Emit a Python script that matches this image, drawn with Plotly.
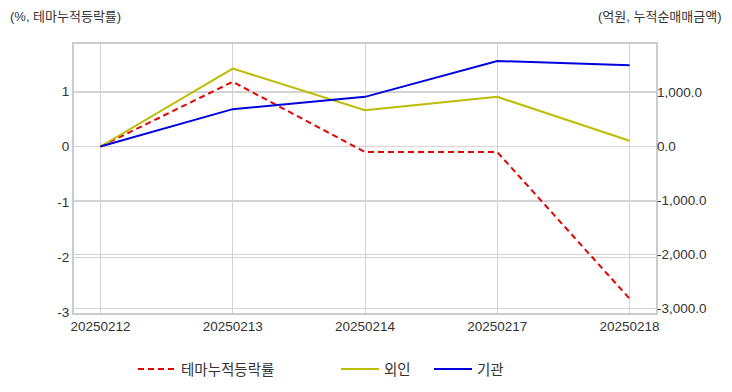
import plotly.graph_objects as go

dates = ["20250212", "20250213", "20250214", "20250217", "20250218"]
theme_pct = [0.0, 1.17, -0.10, -0.10, -2.75]
foreign_amt = [0.0, 1443, 673, 919, 107]
inst_amt = [0.0, 692, 919, 1583, 1504]

left_ticks = [-3, -2, -1, 0, 1]
right_ticks = [-3000, -2000, -1000, 0, 1000]

def fmt_left(v):
    return f"{v:d}"

def fmt_right(v):
    return f"{v:,.1f}"

FONT = "Liberation Sans, Arial, Noto Sans CJK KR, sans-serif"
GRID = "#d3d3d3"

fig = go.Figure()
fig.add_trace(go.Scatter(x=dates, y=theme_pct, name="테마누적등락률", mode="lines",
                         line=dict(color="#e60000", width=2, dash="6px,4px"),
                         yaxis="y", legend="legend", showlegend=True))
fig.add_trace(go.Scatter(x=dates, y=foreign_amt, name="외인", mode="lines",
                         line=dict(color="#bdbd00", width=2),
                         yaxis="y2", legend="legend2", showlegend=True))
fig.add_trace(go.Scatter(x=dates, y=inst_amt, name="기관", mode="lines",
                         line=dict(color="#0000dd", width=2),
                         yaxis="y2", legend="legend3", showlegend=True))

W, H = 732, 392
ml, mr, mt, mb = 74, 76, 44, 79
pw = W - ml - mr
ph = H - mt - mb

def px_to_paper_x(px):
    return (px - ml) / pw

def py_to_paper_y(py):
    return (H - mb - py) / ph

legend_common = dict(orientation="h", yanchor="middle", xanchor="left",
                     xref="container", yref="container", itemwidth=38,
                     font=dict(family=FONT, size=14.5, color="#333"),
                     bgcolor="rgba(0,0,0,0)")

fig.update_layout(
    width=W, height=H,
    showlegend=True,
    margin=dict(l=ml, r=mr, t=mt, b=mb, autoexpand=False),
    paper_bgcolor="white", plot_bgcolor="white",
    font=dict(family=FONT, size=13, color="#333"),
    xaxis=dict(type="category", range=[-0.2, 4.2], showgrid=True, gridcolor=GRID,
               gridwidth=1, showline=True, linecolor="#cccccc", linewidth=2,
               mirror=True, ticks="", tickfont=dict(size=13.5, color="#333")),
    yaxis=dict(range=[-3.01, 1.853], tickvals=left_ticks,
               ticktext=[fmt_left(v) for v in left_ticks],
               showgrid=True, gridcolor=GRID, gridwidth=1, zeroline=False,
               showline=True, linecolor="#cccccc", linewidth=2, mirror=True,
               ticks="", tickfont=dict(size=13.5, color="#333")),
    yaxis2=dict(range=[-3083, 1898], overlaying="y", side="right",
                tickvals=right_ticks, ticktext=[fmt_right(v) for v in right_ticks],
                showgrid=True, gridcolor=GRID, gridwidth=1, zeroline=False,
                ticks="", tickfont=dict(size=13.5, color="#333")),
    legend=dict(x=133 / W, y=1 - 369 / H, **legend_common),
    legend2=dict(x=336 / W, y=1 - 369 / H, **legend_common),
    legend3=dict(x=429 / W, y=1 - 369 / H, **legend_common),
)

fig.add_annotation(text="(%, 테마누적등락률)", xref="paper", yref="paper",
                   x=px_to_paper_x(8), y=py_to_paper_y(16), xanchor="left", yanchor="middle",
                   showarrow=False, font=dict(size=13, color="#333"))
fig.add_annotation(text="(억원, 누적순매매금액)", xref="paper", yref="paper",
                   x=px_to_paper_x(724), y=py_to_paper_y(16), xanchor="right", yanchor="middle",
                   showarrow=False, font=dict(size=13, color="#333"))

fig.write_html("out.html", config={"displayModeBar": False},
               post_script="document.body.style.margin='0';")
